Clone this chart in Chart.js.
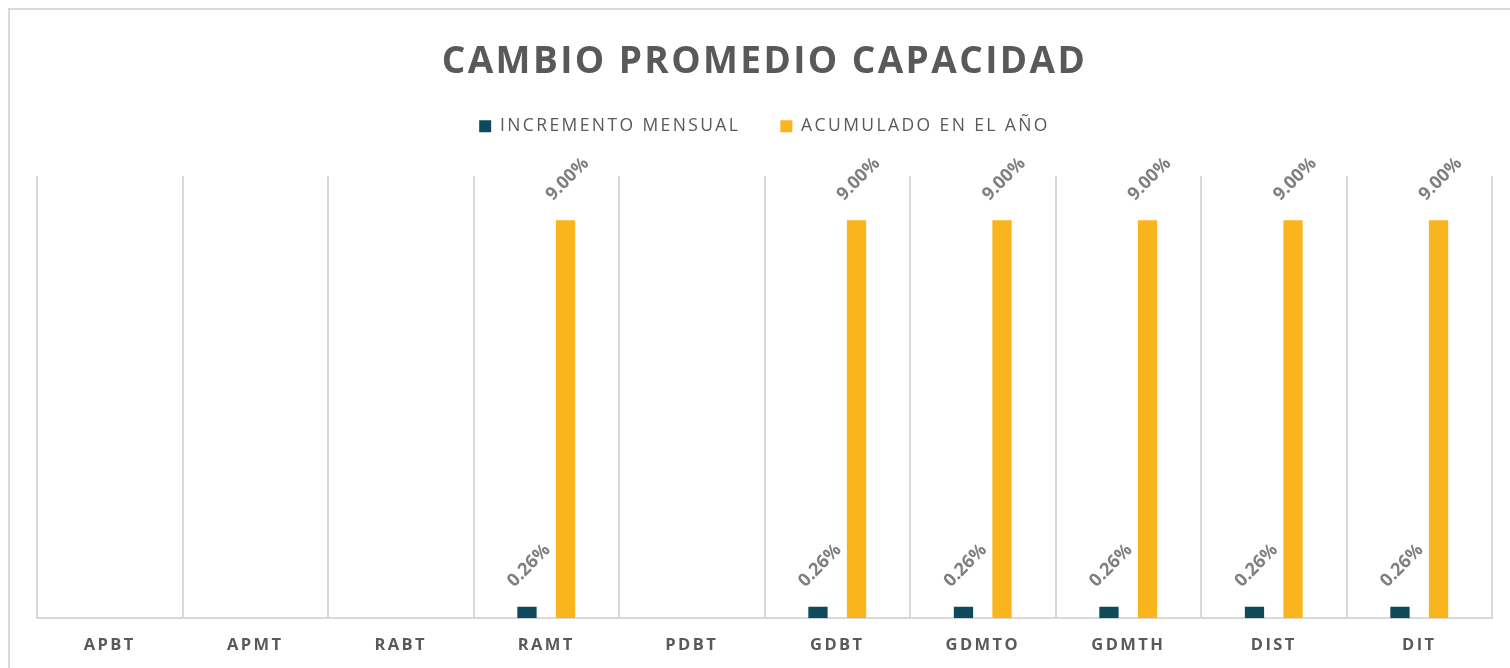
<!DOCTYPE html>
<html lang="es">
<head>
<meta charset="utf-8">
<title>Cambio promedio capacidad</title>
<script src="https://cdn.jsdelivr.net/npm/chart.js@4.4.1/dist/chart.umd.min.js"></script>
<style>
  html, body { margin: 0; padding: 0; background: #fff; }
  .wrap { position: relative; width: 1510px; height: 668px; }
</style>
</head>
<body>
<div class="wrap"><canvas id="capChart"></canvas></div>
<script>
/* ── Data ───────────────────────────────────────── */
const categories   = ['APBT', 'APMT', 'RABT', 'RAMT', 'PDBT', 'GDBT', 'GDMTO', 'GDMTH', 'DIST', 'DIT'];
const incMensual   = [null, null, null, 0.26, null, 0.26, 0.26, 0.26, 0.26, 0.26];
const acumuladoAno = [null, null, null, 9.00, null, 9.00, 9.00, 9.00, 9.00, 9.00];
const seriesNames  = ['INCREMENTO MENSUAL', 'ACUMULADO EN EL AÑO'];

/* ── Colours ────────────────────────────────────── */
const NAVY   = '#0d4a5c';
const GOLD   = '#fab41d';
const GRID   = '#d9d9d9';
const TEXT   = '#595959';
const LABEL  = '#7f7f7f';
const FONT   = "'Open Sans', 'DejaVu Sans', sans-serif";

/* ── Plugins: frame, letter spacing, rotated value labels ── */
const framePlugin = {
  id: 'frame',
  beforeInit(chart) {
    // extra room between legend and plot area
    const fit = chart.legend.fit;
    chart.legend.fit = function () {
      fit.call(this);
      this.height += 31;
    };
  },
  beforeLayout(chart) { chart.ctx.letterSpacing = '2.4px'; },
  beforeDraw(chart) {
    const ctx = chart.ctx;
    ctx.save();
    ctx.strokeStyle = GRID;
    ctx.lineWidth = 2;
    ctx.strokeRect(9, 9, chart.width + 20, chart.height + 20);
    ctx.restore();
    ctx.letterSpacing = '2.4px';
  },
  afterDatasetsDraw(chart) {
    const ctx = chart.ctx;
    ctx.save();
    ctx.letterSpacing = '0px';
    ctx.font = `bold 18px ${FONT}`;
    ctx.fillStyle = LABEL;
    ctx.textAlign = 'center';
    ctx.textBaseline = 'middle';
    chart.data.datasets.forEach((ds, i) => {
      chart.getDatasetMeta(i).data.forEach((bar, j) => {
        const v = ds.data[j];
        if (v == null) return;
        ctx.save();
        ctx.translate(bar.x + 2, bar.y - 41);
        ctx.rotate(-Math.PI / 4);
        ctx.fillText(v.toFixed(2) + '%', 0, 0);
        ctx.restore();
      });
    });
    ctx.restore();
    // x tick labels are drawn after this hook (scale z = 1)
    ctx.letterSpacing = '4.5px';
  }
};

/* ── Chart ──────────────────────────────────────── */
const ctx = document.getElementById('capChart').getContext('2d');
const capChart = new Chart(ctx, {
  type: 'bar',
  data: {
    labels: categories,
    datasets: [
      { label: seriesNames[0], data: incMensual,   backgroundColor: NAVY },
      { label: seriesNames[1], data: acumuladoAno, backgroundColor: GOLD }
    ]
  },
  options: {
    responsive: true,
    maintainAspectRatio: false,
    animation: false,
    categoryPercentage: 0.53,
    barPercentage: 0.5,
    layout: { padding: { top: 40, left: 37, right: 18, bottom: -4 } },
    plugins: {
      title: {
        display: true,
        text: 'CAMBIO PROMEDIO CAPACIDAD',
        color: TEXT,
        font: { family: FONT, size: 37, weight: 'bold' },
        padding: { top: 0, bottom: -7 }
      },
      legend: {
        position: 'top',
        labels: {
          color: TEXT,
          font: { family: FONT, size: 17.5 },
          boxWidth: 12,
          boxHeight: 12,
          padding: 40
        }
      },
      tooltip: { enabled: false }
    },
    scales: {
      x: {
        z: 1,
        grid: { offset: true, color: GRID, lineWidth: 2, drawTicks: false },
        border: { color: GRID, width: 2 },
        ticks: {
          color: TEXT,
          padding: 17,
          font: { family: FONT, size: 16.5, weight: 'bold' },
          maxRotation: 0,
          autoSkip: false
        }
      },
      y: {
        display: false,
        min: 0,
        max: 10
      }
    }
  },
  plugins: [framePlugin]
});
</script>
</body>
</html>
